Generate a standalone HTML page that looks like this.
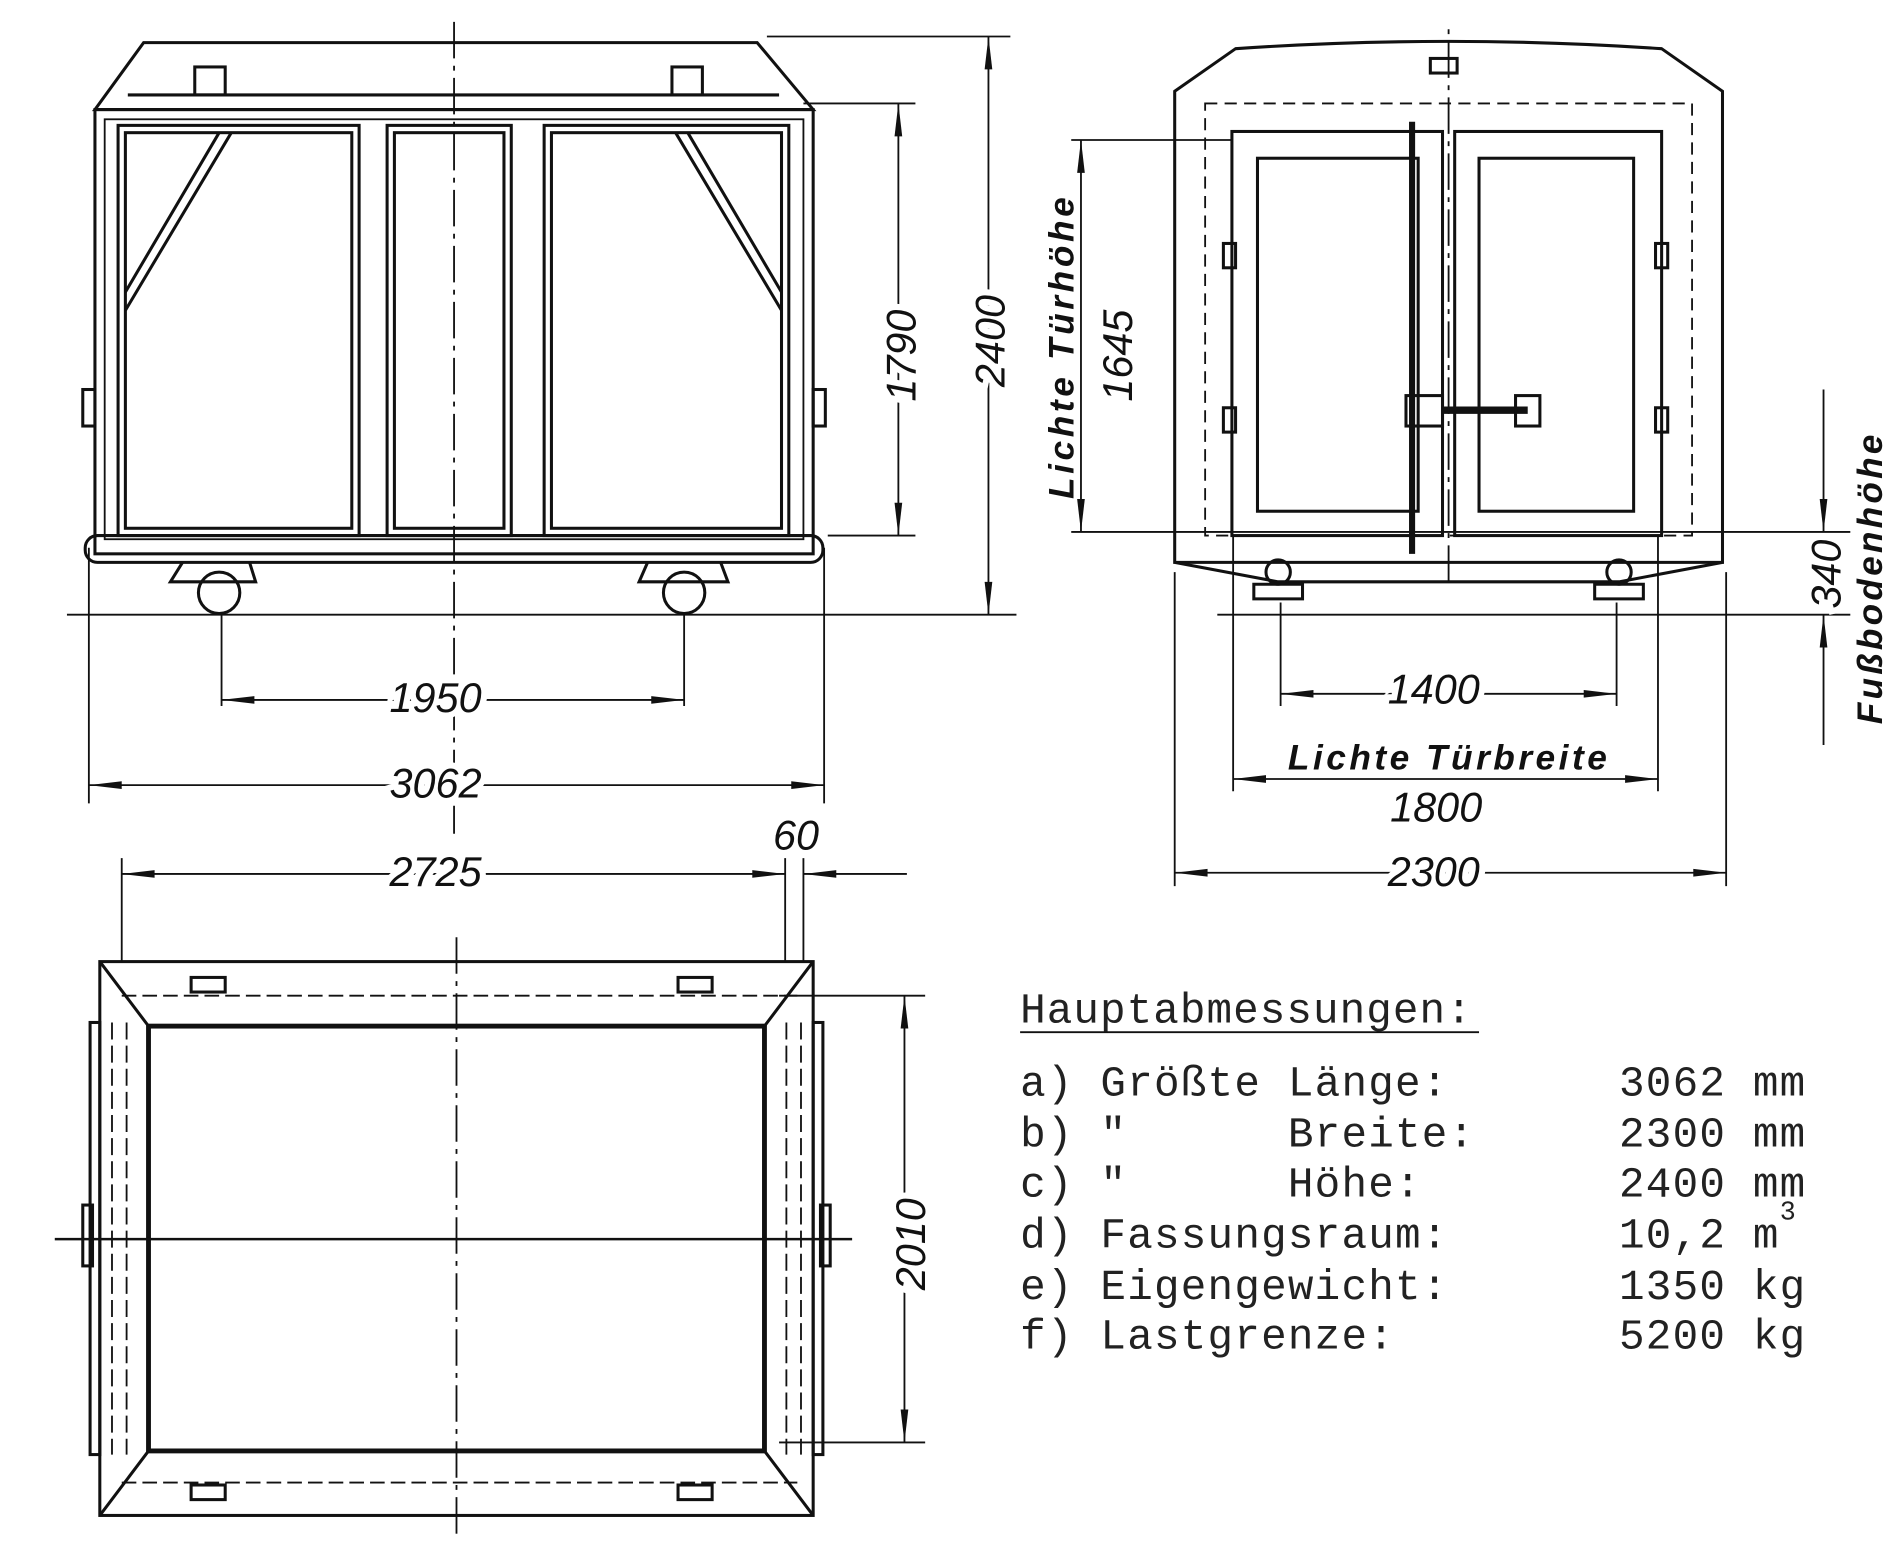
<!DOCTYPE html>
<html><head><meta charset="utf-8"><style>
html,body{margin:0;padding:0;background:#fff;}
svg{display:block;}
text{font-family:"Liberation Sans",sans-serif;font-style:italic;fill:#111;}
.m{font-family:"Liberation Mono",monospace;font-style:normal;font-size:35px;letter-spacing:1px;fill:#222;white-space:pre;}
</style></head><body>
<svg width="1899" height="1541" viewBox="0 0 1560 1266" preserveAspectRatio="none" xmlns="http://www.w3.org/2000/svg" xml:space="preserve">
<defs><marker id="a" viewBox="0 0 30 10" refX="30" refY="5" markerWidth="30" markerHeight="9" orient="auto-start-reverse" markerUnits="userSpaceOnUse"><path d="M0,1.5 L30,5 L0,8.5z" fill="#111"/></marker></defs>
<g stroke="#111" fill="none" stroke-width="2.5">
<path d="M118,35 L622,35 L668,90 L78,90 Z"/>
<line x1="105" y1="78" x2="640" y2="78"/>
<rect x="78" y="90" width="590" height="365"/>
<rect x="86" y="98" width="574" height="345" stroke-width="1.5"/>
<rect x="97" y="103" width="198" height="337"/><rect x="103" y="109" width="186" height="325"/>
<rect x="318" y="103" width="102" height="337"/><rect x="324" y="109" width="90" height="325"/>
<rect x="447" y="103" width="201" height="337"/><rect x="453" y="109" width="189" height="325"/>
<path d="M103,240 L180,109 M103,255 L190,109"/>
<path d="M642,240 L565,109 M642,255 L555,109"/>
<rect x="70" y="440" width="606" height="22" rx="10"/>
<rect x="68" y="320" width="10" height="30"/><rect x="668" y="320" width="10" height="30"/>
<rect x="160" y="55" width="25" height="23"/><rect x="552" y="55" width="25" height="23"/>
<circle cx="180" cy="487" r="17"/><circle cx="562" cy="487" r="17"/>
<path d="M150,462 L140,478 L210,478 L205,462 M532,462 L525,478 L598,478 L592,462"/>
<line x1="373" y1="18" x2="373" y2="685" stroke-dasharray="30,6,4,6" stroke-width="1.5"/>
<line x1="55" y1="505" x2="835" y2="505" stroke-width="1.5"/>
<line x1="680" y1="440" x2="752" y2="440" stroke-width="1.5"/>
<line x1="660" y1="85" x2="752" y2="85" stroke-width="1.5"/>
<line x1="630" y1="30" x2="830" y2="30" stroke-width="1.5"/>
<line x1="812" y1="30" x2="812" y2="505" stroke-width="1.5" marker-start="url(#a)" marker-end="url(#a)"/>
<line x1="738" y1="85" x2="738" y2="440" stroke-width="1.5" marker-start="url(#a)" marker-end="url(#a)"/>
<line x1="182" y1="505" x2="182" y2="580" stroke-width="1.5"/><line x1="562" y1="505" x2="562" y2="580" stroke-width="1.5"/>
<line x1="73" y1="450" x2="73" y2="660" stroke-width="1.5"/><line x1="677" y1="450" x2="677" y2="660" stroke-width="1.5"/>
<line x1="182" y1="575" x2="562" y2="575" stroke-width="1.5" marker-start="url(#a)" marker-end="url(#a)"/>
<line x1="73" y1="645" x2="677" y2="645" stroke-width="1.5" marker-start="url(#a)" marker-end="url(#a)"/>
<path d="M965,75 L1015,40 Q1190,28 1365,40 L1415,75 L1415,462 L965,462 Z"/>
<rect x="990" y="85" width="400" height="355" stroke-dasharray="10,6" stroke-width="1.5"/>
<rect x="1012" y="108" width="173" height="332"/><rect x="1195" y="108" width="170" height="332"/>
<rect x="1033" y="130" width="132" height="290"/><rect x="1215" y="130" width="127" height="290"/>
<line x1="1160" y1="100" x2="1160" y2="455" stroke-width="5"/>
<rect x="1155" y="325" width="30" height="25"/><line x1="1185" y1="337" x2="1255" y2="337" stroke-width="6"/><rect x="1245" y="325" width="20" height="25"/>
<rect x="1005" y="200" width="10" height="20"/><rect x="1005" y="335" width="10" height="20"/>
<rect x="1360" y="200" width="10" height="20"/><rect x="1360" y="335" width="10" height="20"/>
<rect x="1175" y="48" width="22" height="12"/>
<path d="M965,462 L1050,478 L1330,478 L1415,462"/>
<path d="M1030,480 h40 v12 h-40z M1310,480 h40 v12 h-40z"/>
<circle cx="1050" cy="470" r="10"/><circle cx="1330" cy="470" r="10"/>
<line x1="1190" y1="478" x2="1190" y2="18" stroke-dasharray="30,6,4,6" stroke-width="1.5"/>
<line x1="880" y1="115" x2="1012" y2="115" stroke-width="1.5"/>
<line x1="880" y1="437" x2="1520" y2="437" stroke-width="1.5"/>
<line x1="1000" y1="505" x2="1520" y2="505" stroke-width="1.5"/>
<line x1="888" y1="115" x2="888" y2="437" stroke-width="1.5" marker-start="url(#a)" marker-end="url(#a)"/>
<line x1="1498" y1="320" x2="1498" y2="437" stroke-width="1.5" marker-end="url(#a)"/>
<line x1="1498" y1="612" x2="1498" y2="505" stroke-width="1.5" marker-end="url(#a)"/>
<line x1="1052" y1="495" x2="1052" y2="580" stroke-width="1.5"/><line x1="1328" y1="495" x2="1328" y2="580" stroke-width="1.5"/>
<line x1="1052" y1="570" x2="1328" y2="570" stroke-width="1.5" marker-start="url(#a)" marker-end="url(#a)"/>
<line x1="1013" y1="440" x2="1013" y2="650" stroke-width="1.5"/><line x1="1362" y1="440" x2="1362" y2="650" stroke-width="1.5"/>
<line x1="1013" y1="640" x2="1362" y2="640" stroke-width="1.5" marker-start="url(#a)" marker-end="url(#a)"/>
<line x1="965" y1="470" x2="965" y2="728" stroke-width="1.5"/><line x1="1418" y1="470" x2="1418" y2="728" stroke-width="1.5"/>
<line x1="965" y1="717" x2="1418" y2="717" stroke-width="1.5" marker-start="url(#a)" marker-end="url(#a)"/>
<rect x="82" y="790" width="586" height="455"/>
<rect x="122" y="843" width="506" height="349" stroke-width="4"/>
<path d="M82,790 L122,843 M668,790 L628,843 M82,1245 L122,1192 M668,1245 L628,1192"/>
<path d="M100,818 L655,818 M100,1218 L655,1218" stroke-dasharray="12,5" stroke-width="1.5"/>
<path d="M92,840 L92,1195 M104,840 L104,1195 M646,840 L646,1195 M658,840 L658,1195" stroke-dasharray="14,5" stroke-width="1.5"/>
<rect x="74" y="840" width="8" height="355"/><rect x="668" y="840" width="8" height="355"/>
<rect x="68" y="990" width="8" height="50"/><rect x="674" y="990" width="8" height="50"/>
<rect x="157" y="803" width="28" height="12"/><rect x="557" y="803" width="28" height="12"/>
<rect x="157" y="1220" width="28" height="12"/><rect x="557" y="1220" width="28" height="12"/>
<line x1="45" y1="1018" x2="700" y2="1018" stroke-width="2"/>
<line x1="375" y1="770" x2="375" y2="1260" stroke-dasharray="30,6,4,6" stroke-width="1.5"/>
<line x1="100" y1="705" x2="100" y2="790" stroke-width="1.5"/>
<line x1="645" y1="705" x2="645" y2="790" stroke-width="1.5"/><line x1="660" y1="705" x2="660" y2="790" stroke-width="1.5"/>
<line x1="100" y1="718" x2="645" y2="718" stroke-width="1.5" marker-start="url(#a)" marker-end="url(#a)"/>
<line x1="745" y1="718" x2="660" y2="718" stroke-width="1.5" marker-end="url(#a)"/>
<line x1="640" y1="818" x2="760" y2="818" stroke-width="1.5"/><line x1="640" y1="1185" x2="760" y2="1185" stroke-width="1.5"/>
<line x1="743" y1="818" x2="743" y2="1185" stroke-width="1.5" marker-start="url(#a)" marker-end="url(#a)"/>
<line x1="838" y1="848" x2="1215" y2="848" stroke-width="1.5"/>
</g>
<g font-size="34">
<text x="320" y="585" style="paint-order:stroke" stroke="#fff" stroke-width="10">1950</text>
<text x="320" y="655" stroke="#fff" stroke-width="10" style="paint-order:stroke">3062</text>
<text x="320" y="728" stroke="#fff" stroke-width="10" style="paint-order:stroke">2725</text>
<text x="635" y="698">60</text>
<text transform="translate(825,318) rotate(-90)" stroke="#fff" stroke-width="10" style="paint-order:stroke">2400</text>
<text transform="translate(752,330) rotate(-90)" stroke="#fff" stroke-width="10" style="paint-order:stroke">1790</text>
<text transform="translate(760,1060) rotate(-90)" stroke="#fff" stroke-width="10" style="paint-order:stroke">2010</text>
<text transform="translate(930,330) rotate(-90)">1645</text>
<text x="1140" y="578" stroke="#fff" stroke-width="10" style="paint-order:stroke">1400</text>
<text x="1142" y="675">1800</text>
<text x="1140" y="728" stroke="#fff" stroke-width="10" style="paint-order:stroke">2300</text>
<text transform="translate(1512,500) rotate(-90)" stroke="#fff" stroke-width="10" style="paint-order:stroke">340</text>
</g>
<g font-size="29" font-weight="bold" letter-spacing="2">
<text transform="translate(882,410) rotate(-90)" textLength="250">Lichte Türhöhe</text>
<text x="1058" y="632" textLength="264">Lichte Türbreite</text>
<text transform="translate(1546,595) rotate(-90)" textLength="240">Fußbodenhöhe</text>
</g>
<text class="m" x="838" y="840" textLength="372">Hauptabmessungen:</text>
<text class="m" x="838" y="900">a) Größte Länge:</text><text class="m" x="1330" y="900">3062 mm</text>
<text class="m" x="838" y="942">b) "      Breite:</text><text class="m" x="1330" y="942">2300 mm</text>
<text class="m" x="838" y="983">c) "      Höhe:</text><text class="m" x="1330" y="983">2400 mm</text>
<text class="m" x="838" y="1025">d) Fassungsraum:</text><text class="m" x="1330" y="1025">10,2 m</text><text class="m" x="1462" y="1002" style="font-size:22px">3</text>
<text class="m" x="838" y="1067">e) Eigengewicht:</text><text class="m" x="1330" y="1067">1350 kg</text>
<text class="m" x="838" y="1108">f) Lastgrenze:</text><text class="m" x="1330" y="1108">5200 kg</text>
</svg>
</body></html>
